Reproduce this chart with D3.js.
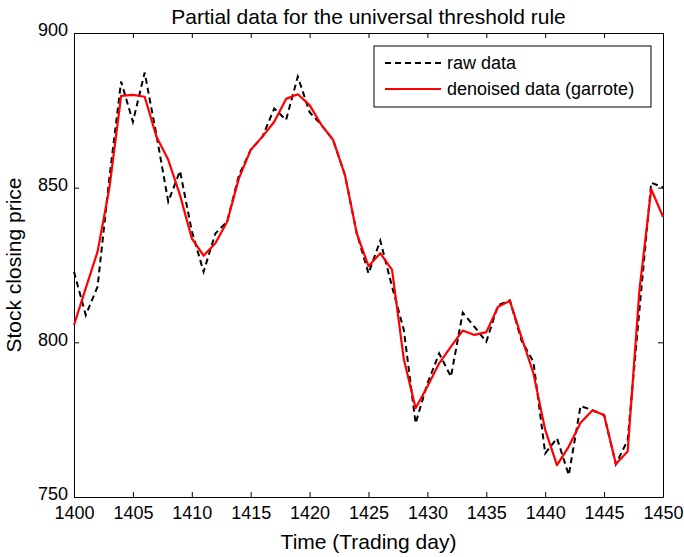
<!DOCTYPE html>
<html>
<head>
<meta charset="utf-8">
<script src="https://cdn.jsdelivr.net/npm/d3@7"></script>
<style>
  body { margin: 0; background: #fff; }
  text { font-family: "Liberation Sans", Arial, sans-serif; fill: #000; }
</style>
</head>
<body>
<div id="chart"></div>
<script>
// trading days on the x axis
const days = d3.range(1400, 1451);

// raw closing prices
const rawPrice = [
  822.8, 808.8, 818, 853, 884.3, 871.3, 887.2, 867, 845.5, 855.4,
  836, 822.8, 835.2, 839, 854, 862.2, 866.5, 875.6, 871.9, 885.9,
  874.4, 870.3, 865.4, 854.1, 835.3, 822.3, 832.9, 818, 804, 773.8,
  786.7, 796.4, 788.9, 809.6, 805, 800.2, 812, 813.6, 800.5, 793.7,
  764.1, 769, 757.1, 779.4, 778.1, 776.5, 760.6, 768.4, 810.5, 851.6,
  850.1
];

// denoised (garrote) prices
const denoisedPrice = [
  805.6, 817.5, 829.3, 849.8, 879.7, 880, 879.4, 866.5, 859, 847.6,
  833.6, 828, 832, 839, 853, 862.2, 866.5, 871.3, 878.7, 880.2,
  876.7, 870.3, 865.4, 854.1, 835.3, 824.6, 828.8, 823.4, 794.5, 778.7,
  785.7, 793.2, 798.6, 803.8, 802.4, 803.3, 811.5, 813.4, 801.5, 790,
  771.7, 760.3, 766.3, 774, 778, 776.5, 760.7, 764.7, 816.9, 849.5,
  840.6
];

const xTicks = [1400, 1405, 1410, 1415, 1420, 1425, 1430, 1435, 1440, 1445, 1450];
const yTicks = [750, 800, 850, 900];

const width = 684;
const height = 557;
const plotLeft = 74, plotRight = 663, plotTop = 33, plotBottom = 497;

const svg = d3.select("#chart")
  .append("svg")
  .attr("width", width)
  .attr("height", height);

const x = d3.scaleLinear().domain([1400, 1450]).range([plotLeft, plotRight]);
const y = d3.scaleLinear().domain([750, 900]).range([plotBottom, plotTop]);

// axes, ticks pointing inward like matlab
svg.append("g")
  .attr("class", "x-axis")
  .attr("transform", `translate(0,${plotBottom})`)
  .call(d3.axisBottom(x).tickValues(xTicks).tickFormat(d3.format("d"))
    .tickSizeInner(-5).tickSizeOuter(0).tickPadding(9));

svg.append("g")
  .attr("transform", `translate(0,${plotTop})`)
  .call(d3.axisTop(x).tickValues(xTicks).tickFormat("")
    .tickSizeInner(-5).tickSizeOuter(0));

svg.append("g")
  .attr("class", "y-axis")
  .attr("transform", `translate(${plotLeft},0)`)
  .call(d3.axisLeft(y).tickValues(yTicks).tickFormat(d3.format("d"))
    .tickSizeInner(-5).tickSizeOuter(0).tickPadding(6));

svg.append("g")
  .attr("transform", `translate(${plotRight},0)`)
  .call(d3.axisRight(y).tickValues(yTicks).tickFormat("")
    .tickSizeInner(-5).tickSizeOuter(0));

svg.selectAll(".domain").attr("stroke", "#000").attr("stroke-width", 1);
svg.selectAll(".tick line").attr("stroke", "#000");
svg.selectAll(".tick text")
  .style("font-size", "18px")
  .style("font-family", "'Liberation Sans', Arial, sans-serif")
  .attr("fill", "#000");
// lift the y labels a touch so 750 clears 1400
svg.selectAll(".y-axis .tick text").attr("dy", "0.15em");

// lines
const priceLine = d3.line()
  .x((d, i) => x(days[i]))
  .y(d => y(d));

svg.append("path")
  .datum(rawPrice)
  .attr("fill", "none")
  .attr("stroke", "#000")
  .attr("stroke-width", 2)
  .attr("stroke-dasharray", "6,4")
  .attr("d", priceLine);

svg.append("path")
  .datum(denoisedPrice)
  .attr("fill", "none")
  .attr("stroke", "#ff0000")
  .attr("stroke-width", 2.2)
  .attr("stroke-linejoin", "round")
  .attr("d", priceLine);

// title and axis labels
svg.append("text")
  .attr("x", (plotLeft + plotRight) / 2)
  .attr("y", 24)
  .attr("text-anchor", "middle")
  .style("font-size", "21px")
  .text("Partial data for the universal threshold rule");

svg.append("text")
  .attr("x", (plotLeft + plotRight) / 2)
  .attr("y", 549)
  .attr("text-anchor", "middle")
  .style("font-size", "21px")
  .text("Time (Trading day)");

svg.append("text")
  .attr("transform", `translate(21,${(plotTop + plotBottom) / 2}) rotate(-90)`)
  .attr("text-anchor", "middle")
  .style("font-size", "21px")
  .text("Stock closing price");

// legend
const legend = svg.append("g").attr("class", "legend");

legend.append("rect")
  .attr("x", 374)
  .attr("y", 46)
  .attr("width", 277)
  .attr("height", 61)
  .attr("fill", "#fff")
  .attr("stroke", "#000")
  .attr("stroke-width", 1);

const legendItems = [
  { name: "raw data", color: "#000", dash: "6,4", width: 2 },
  { name: "denoised data (garrote)", color: "#ff0000", dash: null, width: 2.2 }
];

legendItems.forEach((item, i) => {
  const g = legend.append("g")
    .attr("transform", `translate(385, ${63 + i * 26})`);

  g.append("line")
    .attr("x1", 0)
    .attr("x2", 56)
    .attr("stroke", item.color)
    .attr("stroke-width", item.width)
    .attr("stroke-dasharray", item.dash);

  g.append("text")
    .attr("x", 62)
    .attr("y", 6)
    .style("font-size", "18px")
    .text(item.name);
});
</script>
</body>
</html>
